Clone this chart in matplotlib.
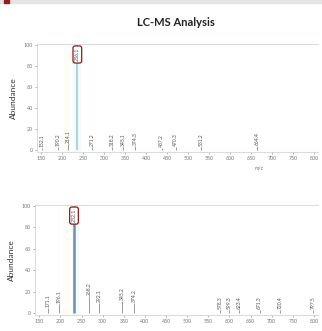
import matplotlib.pyplot as plt
from matplotlib.patches import Rectangle

plt.rcParams['font.family'] = ['Lato', 'DejaVu Sans']

# ---- data ----
top_mz = [152.1, 190.2, 214.1, 236.1, 271.2, 318.2, 345.1, 374.3, 437.2, 470.3, 531.2, 664.4]
top_int = [2, 3, 6, 100, 3, 3, 3, 4, 2, 3, 3, 4]

bot_mz = [171.1, 196.1, 232.1, 268.2, 292.1, 345.2, 374.2, 578.3, 599.3, 623.4, 671.3, 720.4, 797.5]
bot_int = [5, 8, 100, 16, 9, 11, 9, 3, 3, 3, 3, 3, 3]

xticks = list(range(150, 801, 50))
yticks = [0, 20, 40, 60, 80, 100]

fig = plt.figure(figsize=(3.22, 3.31), dpi=100)

# header strip
fig.patches.append(Rectangle((0, 0.991), 1, 0.009, transform=fig.transFigure,
                             color='#e4e4e4', zorder=0))
fig.patches.append(Rectangle((0.012, 0.991), 0.016, 0.009, transform=fig.transFigure,
                             color='#9b1b1b', zorder=1))

fig.text(0.545, 0.932, 'LC-MS Analysis', ha='center', va='center',
         fontsize=8, fontweight='bold', color='#222222')


def draw_panel(ax, mz, inten, main_color, main_lw, xlabel):
    ax.set_xlim(140, 810)
    ax.set_ylim(-2, 101)
    for m, v in zip(mz, inten):
        if v >= 100:
            ax.vlines(m, 0, v, color=main_color, lw=main_lw, zorder=2)
            ax.text(m, 91, f'{m:.1f}', rotation=90, ha='center', va='center',
                    fontsize=3.8, color='#555555', zorder=4,
                    bbox=dict(boxstyle='round,pad=0.35,rounding_size=0.4',
                              fc='white', ec='#8b1a1a', lw=0.9))
        else:
            ax.vlines(m, 0, v, color='#8a8a8a', lw=0.6, zorder=2)
            ax.text(m, v + 1, f'{m:.1f}', rotation=90, ha='center', va='bottom',
                    fontsize=3.6, color='#555555', zorder=3)
    ax.set_xticks(xticks)
    ax.set_yticks(yticks)
    ax.tick_params(labelsize=3.8, colors='#777777', length=1.5, width=0.4, pad=1.5)
    for s in ax.spines.values():
        s.set_color('#cfd6dd')
        s.set_linewidth(0.6)
    ax.spines['right'].set_visible(False)
    ax.set_ylabel('Abundance', fontsize=6, color='#333333', labelpad=5)
    if xlabel:
        ax.set_xlabel('m/z', fontsize=3.8, color='#777777')
        ax.xaxis.set_label_coords(0.79, -0.13)
    # faint highlight bands around the base peak
    ax.axvspan(228, 244, color='#dcf0f6', alpha=0.3, lw=0, zorder=0)
    ax.axvspan(205, 220, color='#fcf4e2', alpha=0.25, lw=0, zorder=0)


ax1 = fig.add_axes([0.115, 0.541, 0.873, 0.326])
draw_panel(ax1, top_mz, top_int, '#a9d3e6', 1.4, True)

ax2 = fig.add_axes([0.109, 0.048, 0.879, 0.333])
draw_panel(ax2, bot_mz, bot_int, '#6f8fab', 1.8, False)

fig.savefig('out.png', dpi=100)
